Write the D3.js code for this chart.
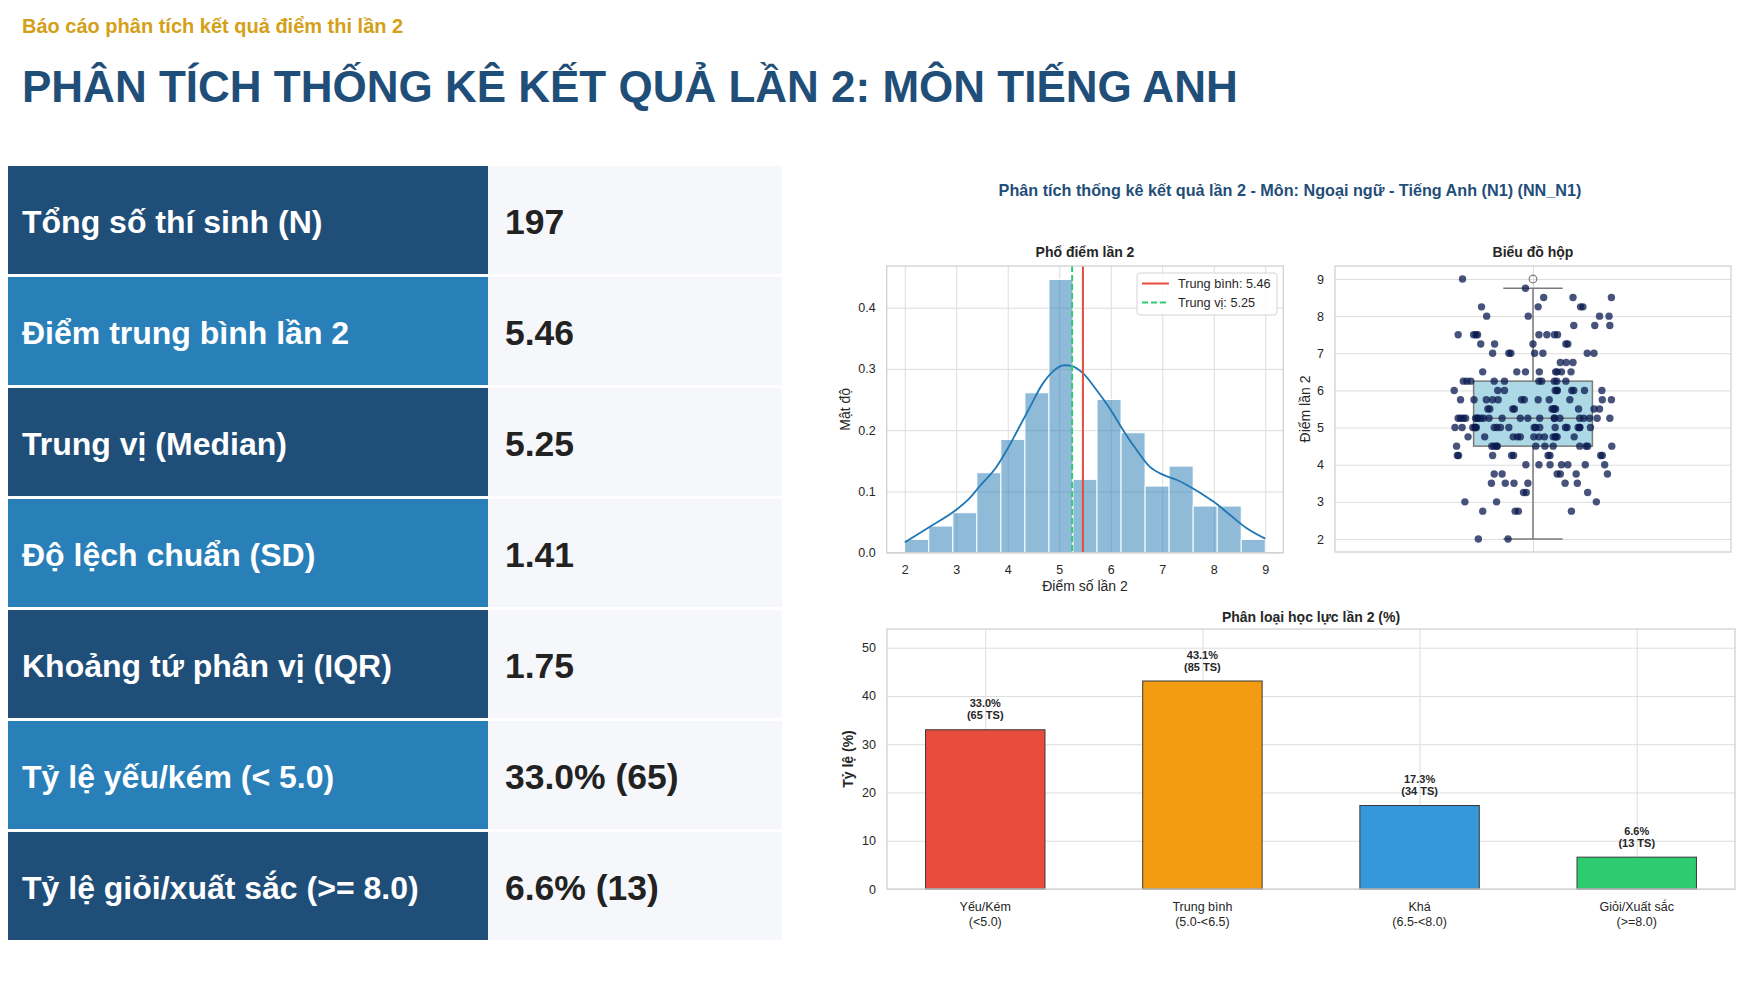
<!DOCTYPE html>
<meta charset="utf-8">
<html>
<head>
<script src="https://cdn.jsdelivr.net/npm/d3@7"></script>
<style>
body { margin: 0; background: #fff; }
text { font-family: "Liberation Sans", Arial, Helvetica, sans-serif; }
.tick text { fill: #262626; font-size: 12.5px; }
</style>
</head>
<body>
<script>

// ---- data ------------------------------------------------------------------
var statLabels = ["Tổng số thí sinh (N)", "Điểm trung bình lần 2", "Trung vị (Median)",
  "Độ lệch chuẩn (SD)", "Khoảng tứ phân vị (IQR)", "Tỷ lệ yếu/kém (< 5.0)",
  "Tỷ lệ giỏi/xuất sắc (>= 8.0)"];
var statValues = ["197", "5.46", "5.25", "1.41", "1.75", "33.0% (65)", "6.6% (13)"];

// histogram: 15 equal bins between 2 and 9
var histRange = [2, 9];
var histCounts = [2, 4, 6, 12, 17, 24, 41, 11, 23, 18, 10, 13, 7, 7, 2];
var histXTicks = [2, 3, 4, 5, 6, 7, 8, 9];
var histYTicks = [0, 0.1, 0.2, 0.3, 0.4];
var kdeX = [2.00, 2.48, 3.00, 3.26, 3.45, 3.78, 4.00, 4.16, 4.42, 4.68, 4.88, 5.10, 5.23,
  5.46, 5.72, 6.00, 6.24, 6.50, 6.76, 7.02, 7.28, 7.53, 7.86, 8.00, 8.31, 8.64, 9.00];
var kdeY = [0.017, 0.042, 0.070, 0.089, 0.108, 0.140, 0.170, 0.195, 0.236, 0.276, 0.296,
  0.306, 0.305, 0.293, 0.266, 0.233, 0.200, 0.168, 0.140, 0.127, 0.119, 0.108, 0.091,
  0.083, 0.062, 0.040, 0.023];
var meanScore = 5.46;
var medianScore = 5.25;

// box plot
var boxQuartiles = [4.5, 5.25, 6.25];
var boxWhiskers = [2.0, 8.75];
var boxOutliers = [9.0];
var boxYTicks = [2, 3, 4, 5, 6, 7, 8, 9];
// strip points: [score, horizontal jitter of each point]
var stripPoints = [
  [9.0,  [-0.178]],
  [8.75, [-0.019]],
  [8.5,  [0.027, 0.101, 0.198]],
  [8.25, [-0.130, 0.013, 0.120, 0.126]],
  [8.0,  [-0.117, -0.012, 0.168, 0.192]],
  [7.75, [0.103, 0.156, 0.194]],
  [7.5,  [-0.189, -0.150, -0.144, -0.140, 0.015, 0.035, 0.054, 0.062]],
  [7.25, [-0.132, -0.097, 0.000, 0.083, 0.088]],
  [7.0,  [-0.102, -0.061, -0.056, 0.004, 0.025, 0.137, 0.154]],
  [6.75, [0.069, 0.084, 0.101]],
  [6.5,  [-0.127, -0.041, -0.019, 0.016, 0.057, 0.061, 0.072, 0.096]],
  [6.25, [-0.176, -0.167, -0.157, -0.098, -0.072, 0.015, 0.022, 0.054, 0.060, 0.083]],
  [6.0,  [-0.199, -0.089, -0.072, 0.056, 0.061, 0.061, 0.098, 0.103, 0.130, 0.174]],
  [5.75, [-0.183, -0.149, -0.118, -0.102, -0.088, -0.029, -0.022, 0.013, 0.041, 0.093, 0.175, 0.198]],
  [5.5,  [-0.114, -0.109, -0.051, -0.047, 0.048, 0.053, 0.053, 0.057, 0.115, 0.154, 0.168]],
  [5.25, [-0.189, -0.183, -0.176, -0.170, -0.145, -0.140, -0.140, -0.132, -0.125, -0.111, -0.078,
          -0.032, -0.013, 0.017, 0.054, 0.054, 0.068, 0.118, 0.128, 0.143, 0.162, 0.194]],
  [5.0,  [-0.197, -0.179, -0.152, -0.146, -0.146, -0.143, -0.098, -0.091, -0.082, -0.061, 0.003,
          0.007, 0.017, 0.056, 0.082, 0.086, 0.114, 0.118, 0.118, 0.145]],
  [4.75, [-0.164, -0.122, -0.050, -0.039, -0.032, 0.002, 0.015, 0.029, 0.051, 0.057, 0.057, 0.061, 0.104]],
  [4.5,  [-0.193, -0.104, -0.098, -0.091, -0.091, 0.007, 0.030, 0.051, 0.118, 0.134, 0.138, 0.199]],
  [4.25, [-0.191, -0.188, -0.102, -0.054, -0.049, 0.038, 0.043, 0.171, 0.175]],
  [4.0,  [-0.018, 0.015, 0.043, 0.072, 0.088, 0.132, 0.181]],
  [3.75, [-0.098, -0.078, 0.061, 0.069, 0.109, 0.188]],
  [3.5,  [-0.105, -0.070, -0.048, -0.013, 0.081, 0.112]],
  [3.25, [-0.024, -0.017, 0.138]],
  [3.0,  [-0.172, -0.092, 0.160]],
  [2.75, [-0.127, -0.045, -0.037, 0.097]],
  [2.0,  [-0.138, -0.063]]
];

// bar chart
var barCats = ["Yếu/Kém", "Trung bình", "Khá", "Giỏi/Xuất sắc"];
var barRanges = ["(<5.0)", "(5.0-<6.5)", "(6.5-<8.0)", "(>=8.0)"];
var barPct = [33.0, 43.1, 17.3, 6.6];
var barCount = [65, 85, 34, 13];
var barYTicks = [0, 10, 20, 30, 40, 50];

// ---- styles ----------------------------------------------------------------
var navy = "#1f4e79", midBlue = "#2980b9";
var barColors = ["#e74c3c", "#f39c12", "#3498db", "#2ecc71"];
var gridColor = "#dddddd", spineColor = "#cfcfcf";

var svg = d3.select("body").append("svg")
  .attr("width", 1750)
  .attr("height", 992)
  .style("display", "block");

svg.append("rect").attr("width", 1750).attr("height", 992).attr("fill", "#fff");

// ---- page header -----------------------------------------------------------
svg.append("text")
  .attr("x", 22).attr("y", 33)
  .style("font-size", "20px").style("font-weight", "bold")
  .attr("fill", "#d4a017")
  .text("Báo cáo phân tích kết quả điểm thi lần 2");

svg.append("text")
  .attr("x", 22).attr("y", 102)
  .style("font-size", "44px").style("font-weight", "bold")
  .attr("fill", navy)
  .text("PHÂN TÍCH THỐNG KÊ KẾT QUẢ LẦN 2: MÔN TIẾNG ANH");

// ---- stats table -----------------------------------------------------------
var rowTop = 166, rowPitch = 111, rowH = 108;
var rows = svg.selectAll("g.statRow")
  .data(statLabels)
  .enter().append("g")
  .attr("class", "statRow")
  .attr("transform", function(d, i) { return "translate(0," + (rowTop + i * rowPitch) + ")"; });

rows.append("rect")
  .attr("x", 8).attr("width", 480).attr("height", rowH)
  .attr("fill", function(d, i) { return i % 2 == 0 ? navy : midBlue; });
rows.append("rect")
  .attr("x", 488).attr("width", 294).attr("height", rowH)
  .attr("fill", "#f5f7fa");
rows.append("text")
  .attr("x", 22).attr("y", rowH / 2 + 12.5)
  .attr("fill", "#fff")
  .style("font-size", "32px").style("font-weight", "bold")
  .text(function(d) { return d; });
rows.append("text")
  .attr("x", 505).attr("y", rowH / 2 + 13.5)
  .attr("fill", "#222")
  .style("font-size", "35.5px").style("font-weight", "bold")
  .text(function(d, i) { return statValues[i]; });

// ---- figure title ----------------------------------------------------------
svg.append("text")
  .attr("x", 1290).attr("y", 196)
  .attr("text-anchor", "middle")
  .attr("fill", navy)
  .style("font-size", "16.2px").style("font-weight", "bold")
  .text("Phân tích thống kê kết quả lần 2 - Môn: Ngoại ngữ - Tiếng Anh (N1) (NN_N1)");

// helpers --------------------------------------------------------------------
function panelTitle(x, y, txt) {
  svg.append("text")
    .attr("x", x).attr("y", y)
    .attr("text-anchor", "middle")
    .attr("fill", "#262626")
    .style("font-size", "14px").style("font-weight", "bold")
    .text(txt);
}
function yLabel(x, y, txt, bold) {
  svg.append("text")
    .attr("transform", "translate(" + x + "," + y + ") rotate(-90)")
    .attr("text-anchor", "middle")
    .attr("fill", "#262626")
    .style("font-size", "14px").style("font-weight", bold ? "bold" : "normal")
    .text(txt);
}
function frame(x0, y0, x1, y1) {
  svg.append("rect")
    .attr("x", x0).attr("y", y0).attr("width", x1 - x0).attr("height", y1 - y0)
    .attr("fill", "none").attr("stroke", spineColor).attr("stroke-width", 1.25);
}
function cleanAxis(g) {
  g.select(".domain").remove();
}
function gridLines(g) {
  g.select(".domain").remove();
  g.selectAll(".tick line").attr("stroke", gridColor).attr("stroke-width", 1);
  g.selectAll(".tick text").remove();
}

// ---- histogram -------------------------------------------------------------
var H = { x0: 886.7, x1: 1283.3, y0: 266, y1: 552.7 };
var span = histRange[1] - histRange[0];
var nTotal = d3.sum(histCounts);
var binW = span / histCounts.length;

var xH = d3.scaleLinear()
  .domain([histRange[0] - 0.05 * span, histRange[1] + 0.05 * span])
  .range([H.x0, H.x1]);
var yH = d3.scaleLinear().domain([0, 0.468]).range([H.y1, H.y0]);

svg.append("g").attr("transform", "translate(0," + H.y1 + ")")
  .call(d3.axisBottom(xH).tickValues(histXTicks).tickSize(-(H.y1 - H.y0))).call(gridLines);
svg.append("g").attr("transform", "translate(" + H.x0 + ",0)")
  .call(d3.axisLeft(yH).tickValues(histYTicks).tickSize(-(H.x1 - H.x0))).call(gridLines);

svg.selectAll("rect.histBar")
  .data(histCounts)
  .enter().append("rect")
  .attr("class", "histBar")
  .attr("x", function(d, i) { return xH(histRange[0] + i * binW); })
  .attr("width", function() { return xH(binW) - xH(0); })
  .attr("y", function(d) { return yH(d / (nTotal * binW)); })
  .attr("height", function(d) { return yH(0) - yH(d / (nTotal * binW)); })
  .attr("fill", "#1f77b4").attr("fill-opacity", 0.5)
  .attr("stroke", "#fff").attr("stroke-width", 1);

var kdeLine = d3.line()
  .x(function(d, i) { return xH(kdeX[i]); })
  .y(function(d) { return yH(d); })
  .curve(d3.curveMonotoneX);
svg.append("path")
  .attr("d", kdeLine(kdeY))
  .attr("fill", "none").attr("stroke", "#1f77b4").attr("stroke-width", 1.8);

svg.append("line")
  .attr("x1", xH(meanScore)).attr("x2", xH(meanScore))
  .attr("y1", H.y0).attr("y2", H.y1)
  .attr("stroke", "#e74c3c").attr("stroke-width", 2);
svg.append("line")
  .attr("x1", xH(medianScore)).attr("x2", xH(medianScore))
  .attr("y1", H.y0).attr("y2", H.y1)
  .attr("stroke", "#2ecc71").attr("stroke-width", 2).attr("stroke-dasharray", "6,3");

svg.append("g").attr("transform", "translate(0," + H.y1 + ")")
  .call(d3.axisBottom(xH).tickValues(histXTicks).tickSize(0).tickPadding(12)
    .tickFormat(d3.format("d"))).call(cleanAxis);
svg.append("g").attr("transform", "translate(" + H.x0 + ",0)")
  .call(d3.axisLeft(yH).tickValues(histYTicks).tickSize(0).tickPadding(11)
    .tickFormat(d3.format(".1f"))).call(cleanAxis);

frame(H.x0, H.y0, H.x1, H.y1);
panelTitle((H.x0 + H.x1) / 2, 257, "Phổ điểm lần 2");
yLabel(850, (H.y0 + H.y1) / 2, "Mật độ");
svg.append("text")
  .attr("x", (H.x0 + H.x1) / 2).attr("y", 591)
  .attr("text-anchor", "middle").attr("fill", "#262626")
  .style("font-size", "14px")
  .text("Điểm số lần 2");

// legend
var lg = svg.append("g").attr("transform", "translate(1137,273)");
lg.append("rect")
  .attr("width", 140).attr("height", 42).attr("rx", 3)
  .attr("fill", "#fff").attr("fill-opacity", 0.85)
  .attr("stroke", "#d5d5d5");
var legendItems = [
  { label: "Trung bình: " + meanScore.toFixed(2), color: "#e74c3c", dash: null },
  { label: "Trung vị: " + medianScore.toFixed(2), color: "#2ecc71", dash: "6,3" }
];
legendItems.forEach(function(it, i) {
  var yy = 10.5 + i * 19;
  lg.append("line")
    .attr("x1", 5).attr("x2", 32).attr("y1", yy).attr("y2", yy)
    .attr("stroke", it.color).attr("stroke-width", 2)
    .attr("stroke-dasharray", it.dash);
  lg.append("text")
    .attr("x", 41).attr("y", yy + 4.5)
    .attr("fill", "#262626").style("font-size", "12.7px")
    .text(it.label);
});

// ---- box plot --------------------------------------------------------------
var B = { x0: 1335, x1: 1731, y0: 266, y1: 552 };
var xB = d3.scaleLinear().domain([-0.5, 0.5]).range([B.x0, B.x1]);
var yB = d3.scaleLinear()
  .domain([boxYTicks[0] - 0.35, boxYTicks[boxYTicks.length - 1] + 0.35])
  .range([B.y1, B.y0]);

svg.append("g").attr("transform", "translate(" + B.x0 + ",0)")
  .call(d3.axisLeft(yB).tickValues(boxYTicks).tickSize(-(B.x1 - B.x0))).call(gridLines);
svg.append("g").attr("transform", "translate(0," + B.y1 + ")")
  .call(d3.axisBottom(xB).tickValues([0]).tickSize(-(B.y1 - B.y0))).call(gridLines);

var boxStroke = "#7a7a7a";
// whiskers
[[boxWhiskers[0], boxQuartiles[0]], [boxQuartiles[2], boxWhiskers[1]]].forEach(function(w) {
  svg.append("line")
    .attr("x1", xB(0)).attr("x2", xB(0))
    .attr("y1", yB(w[0])).attr("y2", yB(w[1]))
    .attr("stroke", boxStroke).attr("stroke-width", 1.5);
});
boxWhiskers.forEach(function(w) {
  svg.append("line")
    .attr("x1", xB(-0.075)).attr("x2", xB(0.075))
    .attr("y1", yB(w)).attr("y2", yB(w))
    .attr("stroke", boxStroke).attr("stroke-width", 1.5);
});
svg.append("rect")
  .attr("x", xB(-0.15)).attr("width", xB(0.15) - xB(-0.15))
  .attr("y", yB(boxQuartiles[2])).attr("height", yB(boxQuartiles[0]) - yB(boxQuartiles[2]))
  .attr("fill", "#add8e6").attr("stroke", boxStroke).attr("stroke-width", 1.5);
svg.append("line")
  .attr("x1", xB(-0.15)).attr("x2", xB(0.15))
  .attr("y1", yB(boxQuartiles[1])).attr("y2", yB(boxQuartiles[1]))
  .attr("stroke", boxStroke).attr("stroke-width", 1.5);
svg.selectAll("circle.flier")
  .data(boxOutliers)
  .enter().append("circle")
  .attr("class", "flier")
  .attr("cx", xB(0)).attr("cy", function(d) { return yB(d); })
  .attr("r", 3.8)
  .attr("fill", "none").attr("stroke", boxStroke).attr("stroke-width", 1.2);

var pts = [];
stripPoints.forEach(function(s) {
  s[1].forEach(function(j) { pts.push({ score: s[0], jit: j }); });
});
svg.selectAll("circle.strip")
  .data(pts)
  .enter().append("circle")
  .attr("class", "strip")
  .attr("cx", function(d) { return xB(d.jit); })
  .attr("cy", function(d) { return yB(d.score); })
  .attr("r", 3.7)
  .attr("fill", "#0a1a4f").attr("fill-opacity", 0.75);

svg.append("g").attr("transform", "translate(" + B.x0 + ",0)")
  .call(d3.axisLeft(yB).tickValues(boxYTicks).tickSize(0).tickPadding(11)
    .tickFormat(d3.format("d"))).call(cleanAxis);
frame(B.x0, B.y0, B.x1, B.y1);
panelTitle((B.x0 + B.x1) / 2, 257, "Biểu đồ hộp");
yLabel(1310, (B.y0 + B.y1) / 2, "Điểm lần 2");

// ---- bar chart -------------------------------------------------------------
var C = { x0: 887, x1: 1735, y0: 629, y1: 889 };
var barW = 0.55;
var cSpan = (barCats.length - 1) + barW;
var xC = d3.scaleLinear()
  .domain([-barW / 2 - 0.05 * cSpan, barCats.length - 1 + barW / 2 + 0.05 * cSpan])
  .range([C.x0, C.x1]);
var yC = d3.scaleLinear().domain([0, d3.max(barPct) * 1.25]).range([C.y1, C.y0]);
var catIdx = d3.range(barCats.length);

svg.append("g").attr("transform", "translate(" + C.x0 + ",0)")
  .call(d3.axisLeft(yC).tickValues(barYTicks).tickSize(-(C.x1 - C.x0))).call(gridLines);
svg.append("g").attr("transform", "translate(0," + C.y1 + ")")
  .call(d3.axisBottom(xC).tickValues(catIdx).tickSize(-(C.y1 - C.y0))).call(gridLines);

svg.selectAll("rect.catBar")
  .data(barPct)
  .enter().append("rect")
  .attr("class", "catBar")
  .attr("x", function(d, i) { return xC(i - barW / 2); })
  .attr("width", xC(barW) - xC(0))
  .attr("y", function(d) { return yC(d); })
  .attr("height", function(d) { return yC(0) - yC(d); })
  .attr("fill", function(d, i) { return barColors[i]; })
  .attr("stroke", "#3a3a3a").attr("stroke-width", 1);

var lbl = svg.selectAll("text.barLbl")
  .data(barPct)
  .enter().append("text")
  .attr("class", "barLbl")
  .attr("text-anchor", "middle")
  .attr("fill", "#262626")
  .style("font-size", "11px").style("font-weight", "bold");
lbl.append("tspan")
  .attr("x", function(d, i) { return xC(i); })
  .attr("y", function(d) { return yC(d) - 22.5; })
  .text(function(d) { return d.toFixed(1) + "%"; });
lbl.append("tspan")
  .attr("x", function(d, i) { return xC(i); })
  .attr("y", function(d) { return yC(d) - 10.5; })
  .text(function(d, i) { return "(" + barCount[i] + " TS)"; });

var xAx = svg.selectAll("text.catLbl")
  .data(barCats)
  .enter().append("text")
  .attr("class", "catLbl")
  .attr("text-anchor", "middle")
  .attr("fill", "#262626")
  .style("font-size", "12.5px");
xAx.append("tspan")
  .attr("x", function(d, i) { return xC(i); })
  .attr("y", C.y1 + 22)
  .text(function(d) { return d; });
xAx.append("tspan")
  .attr("x", function(d, i) { return xC(i); })
  .attr("y", C.y1 + 37)
  .text(function(d, i) { return barRanges[i]; });

svg.append("g").attr("transform", "translate(" + C.x0 + ",0)")
  .call(d3.axisLeft(yC).tickValues(barYTicks).tickSize(0).tickPadding(11)
    .tickFormat(d3.format("d"))).call(cleanAxis);
frame(C.x0, C.y0, C.x1, C.y1);
panelTitle((C.x0 + C.x1) / 2, 622, "Phân loại học lực lần 2 (%)");
yLabel(853, (C.y0 + C.y1) / 2, "Tỷ lệ (%)", true);

</script>
</body>
</html>
